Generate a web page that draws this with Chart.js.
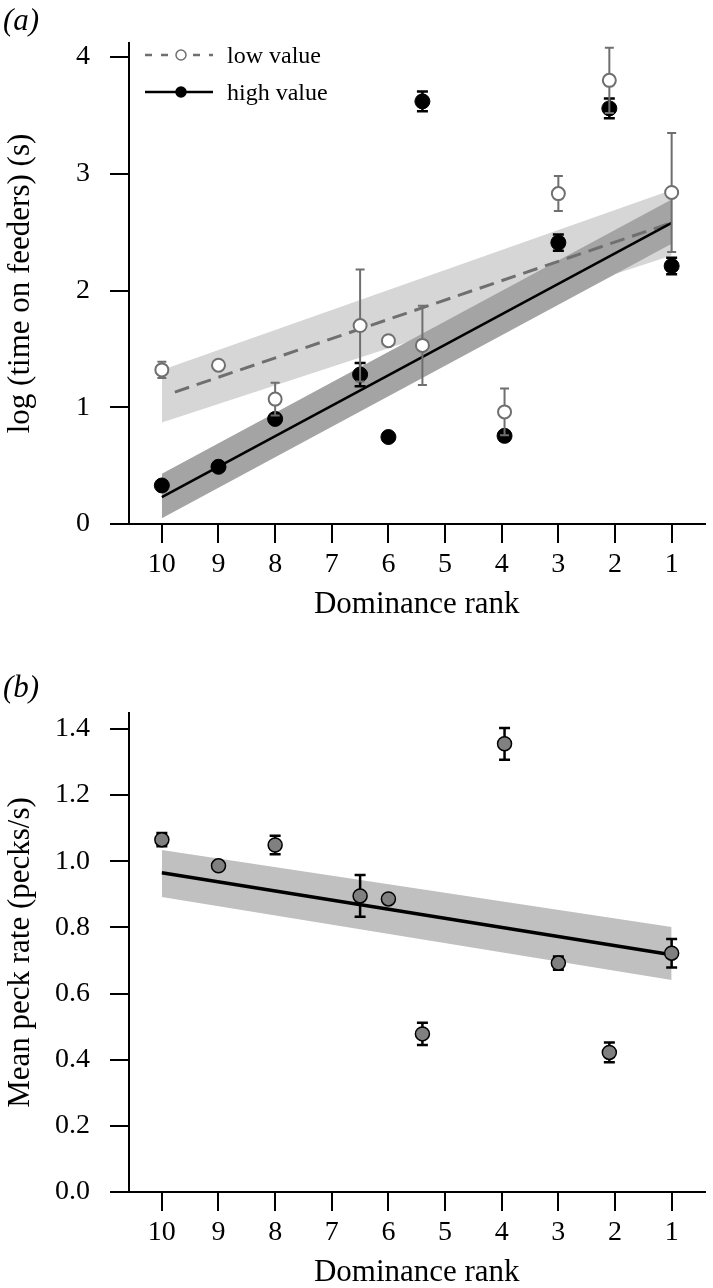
<!DOCTYPE html>
<html>
<head>
<meta charset="utf-8">
<script src="https://cdn.jsdelivr.net/npm/chart.js@4.4.0/dist/chart.umd.min.js"></script>
<style>
  html, body { margin: 0; padding: 0; background: #fff; }
  canvas { display: block; }
</style>
</head>
<body>
<canvas id="chartA" width="713" height="640"></canvas>
<canvas id="chartB" width="713" height="648"></canvas>
<script>
// x positions of the birds (dominance rank) and axis ticks, shared by both panels
const rankPos = [10, 9, 8, 6.5, 6, 5.4, 3.95, 3, 2.1, 1];
const rankTicks = [10, 9, 8, 7, 6, 5, 4, 3, 2, 1];

// (a) log time on feeders
const seriesNames = ['low value', 'high value'];
const lowMean = [1.32, 1.36, 1.07, 1.70, 1.57, 1.53, 0.96, 2.83, 3.80, 2.84];
const lowErr = [0.07, 0.03, 0.14, 0.48, 0, 0.34, 0.20, 0.15, 0.28, 0.51];
const highMean = [0.33, 0.49, 0.90, 1.28, 0.745, 3.62, 0.755, 2.41, 3.56, 2.21];
const highErr = [0.03, 0.03, 0.03, 0.10, 0, 0.085, 0.04, 0.07, 0.085, 0.07];
const lowFitX = [9.77, 1];
const lowFitY = [1.13, 2.58];
const highFitX = [10, 1];
const highFitY = [0.23, 2.58];
const bandX = [10, 1];
const lowBandHi = [1.32, 2.86];
const lowBandLo = [0.87, 2.30];
const highBandHi = [0.43, 2.78];
const highBandLo = [0.05, 2.40];
const yTicksA = [0, 1, 2, 3, 4];

// (b) mean peck rate
const peckMean = [1.065, 0.986, 1.049, 0.895, 0.886, 0.478, 1.355, 0.692, 0.422, 0.722];
const peckErr = [0.02, 0.01, 0.028, 0.063, 0, 0.034, 0.048, 0.02, 0.03, 0.043];
const peckFitY = [0.965, 0.717];
const peckBandHi = [1.034, 0.801];
const peckBandLo = [0.892, 0.641];
const yTicksB = [0, 0.2, 0.4, 0.6, 0.8, 1.0, 1.2, 1.4];

const SERIF = '"Liberation Serif", "Times New Roman", serif';
const GREY = '#6f6f6f';

const pts = (xs, ys) => xs.map((x, i) => ({ x: x, y: ys[i] }));

// error bars are drawn just before their own point dataset
const errorBars = {
  id: 'errorBars',
  beforeDatasetDraw(chart, args) {
    const ds = chart.data.datasets[args.index];
    if (!ds.errors) return;
    const ctx = chart.ctx;
    const xs = chart.scales.x, ys = chart.scales.y;
    ctx.save();
    ctx.strokeStyle = ds.errorColor;
    ctx.lineWidth = ds.errorWidth;
    ds.data.forEach((p, i) => {
      const e = ds.errors[i];
      if (!e) return;
      const px = xs.getPixelForValue(p.x);
      const top = ys.getPixelForValue(p.y + e);
      const bot = ys.getPixelForValue(p.y - e);
      const c = ds.capHalf;
      ctx.beginPath();
      ctx.moveTo(px, top); ctx.lineTo(px, bot);
      ctx.moveTo(px - c, top); ctx.lineTo(px + c, top);
      ctx.moveTo(px - c, bot); ctx.lineTo(px + c, bot);
      ctx.stroke();
    });
    ctx.restore();
  }
};

const panelLabel = {
  id: 'panelLabel',
  afterDraw(chart, args, opts) {
    const ctx = chart.ctx;
    ctx.save();
    ctx.font = 'italic 31px ' + SERIF;
    ctx.fillStyle = '#000';
    ctx.textBaseline = 'alphabetic';
    ctx.fillText(opts.text, 3, opts.y);
    ctx.restore();
  }
};

// legend with line + marker samples, inside the plot (panel a only)
const legendItems = [
  { label: seriesNames[0], color: GREY, dash: [7, 9], fill: '#fff' },
  { label: seriesNames[1], color: '#000', dash: [], fill: '#000' }
];
const lineLegend = {
  id: 'lineLegend',
  afterDraw(chart) {
    const ctx = chart.ctx;
    const a = chart.chartArea;
    ctx.save();
    legendItems.forEach((it, i) => {
      const y = a.top + 12 + i * 37;
      ctx.strokeStyle = it.color;
      ctx.lineWidth = 2.5;
      ctx.setLineDash(it.dash);
      ctx.beginPath();
      ctx.moveTo(a.left + 16, y);
      ctx.lineTo(a.left + 84, y);
      ctx.stroke();
      ctx.setLineDash([]);
      ctx.beginPath();
      ctx.arc(a.left + 52, y, 5, 0, Math.PI * 2);
      ctx.fillStyle = it.fill;
      ctx.fill();
      ctx.lineWidth = 1.5;
      ctx.stroke();
      ctx.fillStyle = '#000';
      ctx.font = '24px ' + SERIF;
      ctx.textBaseline = 'alphabetic';
      ctx.fillText(it.label, a.left + 98, y + 8);
    });
    ctx.restore();
  }
};

function makeScales(yMax, yTicks, yTitle, fmt) {
  const grid = { drawOnChartArea: false, drawTicks: true, tickLength: 19, color: '#000', lineWidth: 2 };
  const border = { display: true, color: '#000', width: 2 };
  return {
    x: {
      type: 'linear', reverse: true, min: 0.42, max: 10.58,
      afterBuildTicks: s => { s.ticks = rankTicks.map(v => ({ value: v })); },
      afterFit: s => { s.height = 96; },
      grid: grid, border: border,
      ticks: { color: '#000', font: { family: SERIF, size: 28 }, padding: 5, maxRotation: 0, autoSkip: false, callback: v => String(v) },
      title: { display: true, text: 'Dominance rank', color: '#000', font: { family: SERIF, size: 31, lineHeight: 1 }, padding: 0 }
    },
    y: {
      type: 'linear', min: 0, max: yMax,
      afterBuildTicks: s => { s.ticks = yTicks.map(v => ({ value: v })); },
      afterFit: s => { s.width = 129; },
      grid: grid, border: border,
      ticks: { color: '#000', font: { family: SERIF, size: 28 }, padding: 20, autoSkip: false, callback: fmt },
      title: { display: true, text: yTitle, color: '#000', font: { family: SERIF, size: 31, lineHeight: 1 }, padding: { top: 5, bottom: 0 } }
    }
  };
}

const baseOptions = {
  responsive: false,
  animation: false,
  events: [],
  plugins: { legend: { display: false }, tooltip: { enabled: false } }
};

// (a)
new Chart(document.getElementById('chartA'), {
  type: 'line',
  plugins: [errorBars, panelLabel, lineLegend],
  data: {
    datasets: [
      { data: pts(bandX, lowBandHi), fill: '+1', backgroundColor: '#d6d6d6', borderWidth: 0, pointRadius: 0, order: 10 },
      { data: pts(bandX, lowBandLo), fill: false, borderWidth: 0, pointRadius: 0, order: 9 },
      { data: pts(bandX, highBandHi), fill: '+1', backgroundColor: '#a4a4a4', borderWidth: 0, pointRadius: 0, order: 8 },
      { data: pts(bandX, highBandLo), fill: false, borderWidth: 0, pointRadius: 0, order: 7 },
      { data: pts(lowFitX, lowFitY), borderColor: GREY, borderWidth: 3, borderDash: [15, 8], pointRadius: 0, fill: false, order: 6 },
      { data: pts(highFitX, highFitY), borderColor: '#000', borderWidth: 2.5, pointRadius: 0, fill: false, order: 5 },
      { label: seriesNames[1], data: pts(rankPos, highMean), showLine: false, pointRadius: 7.5, pointBackgroundColor: '#000', pointBorderColor: '#000', pointBorderWidth: 1,
        errors: highErr, errorColor: '#000', errorWidth: 2.5, capHalf: 5.5, order: 4 },
      { label: seriesNames[0], data: pts(rankPos, lowMean), showLine: false, pointRadius: 6.5, pointBackgroundColor: '#fff', pointBorderColor: GREY, pointBorderWidth: 2,
        errors: lowErr, errorColor: GREY, errorWidth: 2, capHalf: 4.5, order: 3 }
    ]
  },
  options: Object.assign({}, baseOptions, {
    layout: { padding: { left: 0, right: 5, top: 43, bottom: 20 } },
    scales: makeScales(4.12, yTicksA, 'log (time on feeders) (s)', v => String(v)),
    plugins: Object.assign({}, baseOptions.plugins, { panelLabel: { text: '(a)', y: 30 } })
  })
});

// (b)
new Chart(document.getElementById('chartB'), {
  type: 'line',
  plugins: [errorBars, panelLabel],
  data: {
    datasets: [
      { data: pts(bandX, peckBandHi), fill: '+1', backgroundColor: '#c0c0c0', borderWidth: 0, pointRadius: 0, order: 10 },
      { data: pts(bandX, peckBandLo), fill: false, borderWidth: 0, pointRadius: 0, order: 9 },
      { data: pts(bandX, peckFitY), borderColor: '#000', borderWidth: 3.5, pointRadius: 0, fill: false, order: 5 },
      { data: pts(rankPos, peckMean), showLine: false, pointRadius: 7, pointBackgroundColor: '#808080', pointBorderColor: '#000', pointBorderWidth: 1.5,
        errors: peckErr, errorColor: '#000', errorWidth: 2.5, capHalf: 5.5, order: 1 }
    ]
  },
  options: Object.assign({}, baseOptions, {
    layout: { padding: { left: 0, right: 5, top: 73, bottom: 0 } },
    scales: makeScales(1.448, yTicksB, 'Mean peck rate (pecks/s)', v => v.toFixed(1)),
    plugins: Object.assign({}, baseOptions.plugins, { panelLabel: { text: '(b)', y: 57 } })
  })
});
</script>
</body>
</html>
